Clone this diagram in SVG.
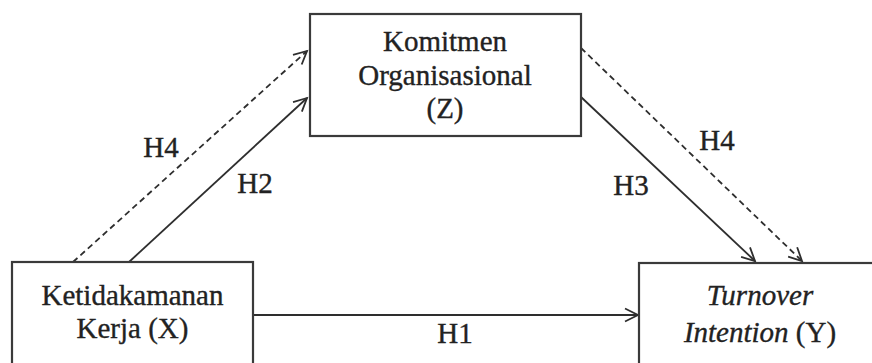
<svg xmlns="http://www.w3.org/2000/svg" width="872" height="363" viewBox="0 0 872 363">
  <style>
    .box { fill: #ffffff; stroke: #3a3a3a; stroke-width: 2.2; }
    .lbl { font-family: "Liberation Serif", "Times New Roman", serif; font-size: 29px; fill: #222222; stroke: #222222; stroke-width: 0.35; text-anchor: middle; }
    .it { font-style: italic; }
    .edge { stroke: #2e2e2e; stroke-width: 1.8; fill: none; marker-end: url(#arrow); }
    .dash { stroke-dasharray: 6 4; }
  </style>
  <defs>
    <marker id="arrow" markerUnits="userSpaceOnUse" markerWidth="20" markerHeight="20" viewBox="-16 -10 20 20" refX="0" refY="0" orient="auto">
      <path d="M -13 -6.5 L 0 0 L -13 6.5" fill="none" stroke="#2e2e2e" stroke-width="1.8"/>
    </marker>
  </defs>
  <rect width="872" height="363" fill="#ffffff"/>

  <g id="connectors">
    <line class="edge" x1="253" y1="315" x2="638" y2="315"/>
    <line class="edge" x1="129" y1="262" x2="307" y2="98"/>
    <line class="edge dash" x1="73" y1="262" x2="307" y2="51"/>
    <line class="edge" x1="581" y1="97" x2="755" y2="261"/>
    <line class="edge dash" x1="581" y1="48" x2="802" y2="261"/>
    <text class="lbl" x="161" y="157">H4</text>
    <text class="lbl" x="255" y="193">H2</text>
    <text class="lbl" x="631" y="195">H3</text>
    <text class="lbl" x="717" y="150">H4</text>
    <text class="lbl" x="455" y="343">H1</text>
  </g>

  <g id="node-z">
    <rect class="box" x="310" y="14" width="271" height="122"/>
    <text class="lbl" x="445" y="51">Komitmen</text>
    <text class="lbl" x="445" y="85">Organisasional</text>
    <text class="lbl" x="445" y="118">(Z)</text>
  </g>

  <g id="node-x">
    <rect class="box" x="12" y="262" width="241" height="110"/>
    <text class="lbl" x="132.5" y="305">Ketidakamanan</text>
    <text class="lbl" x="132.5" y="338">Kerja (X)</text>
  </g>

  <g id="node-y">
    <rect class="box" x="639" y="263" width="245" height="110"/>
    <text class="lbl it" x="760" y="305">Turnover</text>
    <text class="lbl" x="760" y="342"><tspan class="it">Intention</tspan> (Y)</text>
  </g>
</svg>
